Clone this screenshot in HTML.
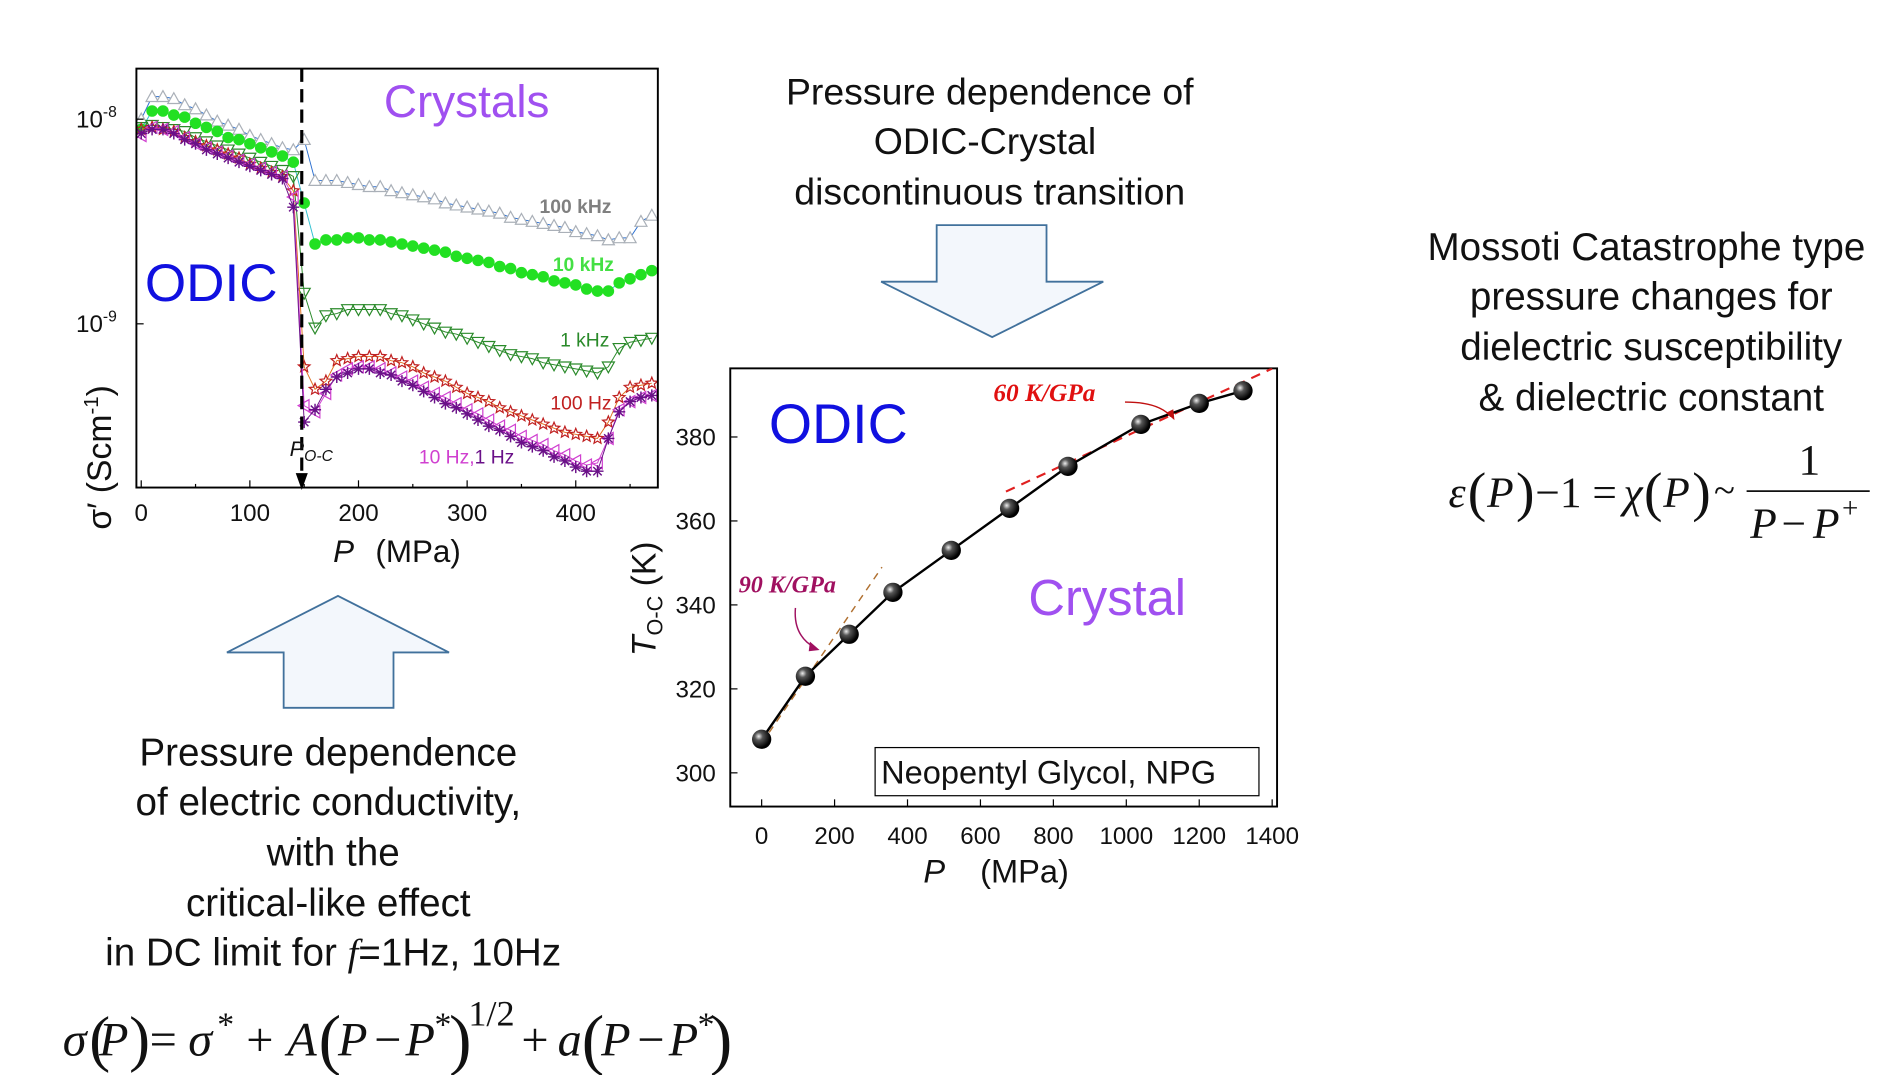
<!DOCTYPE html>
<html><head><meta charset="utf-8"><style>
html,body{margin:0;padding:0;background:#fff;}
svg{display:block;}
text{font-family:"Liberation Sans",sans-serif;}
.ser{font-family:"Liberation Serif",serif;}
</style></head><body>
<svg id="fig" width="1883" height="1075" viewBox="0 0 1560 893" preserveAspectRatio="none" xmlns="http://www.w3.org/2000/svg">
<rect width="1560" height="893" fill="#fff"/>
<g id="left-plot"></g>
<g id="right-plot"></g>

<g font-size="31" fill="#111" text-anchor="middle">
<text x="820" y="87">Pressure dependence of</text>
<text x="816" y="128">ODIC-Crystal</text>
<text x="820" y="170">discontinuous transition</text>
</g>
<g font-size="32" fill="#111" text-anchor="middle">
<text x="1364" y="216">Mossoti Catastrophe type</text>
<text x="1368" y="257">pressure changes for</text>
<text x="1368" y="299">dielectric susceptibility</text>
<text x="1368" y="341">&amp; dielectric constant</text>
</g>
<g font-size="32" fill="#111" text-anchor="middle">
<text x="272" y="636">Pressure dependence</text>
<text x="272" y="677">of electric conductivity,</text>
<text x="276" y="719">with the</text>
<text x="272" y="761">critical-like effect</text>
<text x="276" y="802">in DC limit for <tspan class="ser" font-style="italic">f</tspan>=1Hz, 10Hz</text>
</g>
<polygon points="188,542 280,495 372,542 326,542 326,588 235,588 235,542" fill="#f3f7fc" stroke="#41719c" stroke-width="1.5"/>
<polygon points="730,234 822,280 914,234 867,234 867,187 776,187 776,234" fill="#f3f7fc" stroke="#41719c" stroke-width="1.5"/>

<g class="ser" fill="#111">
<text x="52" y="877" font-size="40" class="ser" font-style="italic">σ</text>
<text x="74" y="880" font-size="52" class="ser">(</text>
<text x="82" y="877" font-size="40" class="ser" font-style="italic">P</text>
<text x="107" y="880" font-size="52" class="ser">)</text>
<text x="124" y="877" font-size="40" class="ser">= </text>
<text x="156" y="877" font-size="40" class="ser" font-style="italic">σ</text>
<text x="180" y="860" font-size="28" class="ser">*</text>
<text x="204" y="877" font-size="40" class="ser">+</text>
<text x="238" y="877" font-size="40" class="ser" font-style="italic">A</text>
<text x="264" y="882" font-size="56" class="ser">(</text>
<text x="280" y="877" font-size="40" class="ser" font-style="italic">P</text>
<text x="310" y="877" font-size="40" class="ser">−</text>
<text x="336" y="877" font-size="40" class="ser" font-style="italic">P</text>
<text x="360" y="860" font-size="28" class="ser">*</text>
<text x="372" y="882" font-size="56" class="ser">)</text>
<text x="388" y="852" font-size="30" class="ser">1/2</text>
<text x="432" y="877" font-size="40" class="ser">+</text>
<text x="462" y="877" font-size="40" class="ser" font-style="italic">a</text>
<text x="482" y="882" font-size="56" class="ser">(</text>
<text x="498" y="877" font-size="40" class="ser" font-style="italic">P</text>
<text x="528" y="877" font-size="40" class="ser">−</text>
<text x="554" y="877" font-size="40" class="ser" font-style="italic">P</text>
<text x="578" y="860" font-size="28" class="ser">*</text>
<text x="588" y="882" font-size="56" class="ser">)</text>
</g>
<g fill="#111">
<text x="1200" y="421" font-size="36" class="ser" font-style="italic">ε</text>
<text x="1216" y="424" font-size="46" class="ser">(</text>
<text x="1232" y="421" font-size="36" class="ser" font-style="italic">P</text>
<text x="1256" y="424" font-size="46" class="ser">)</text>
<text x="1272" y="421" font-size="36" class="ser">−1 = </text>
<text x="1345" y="421" font-size="36" class="ser" font-style="italic">χ</text>
<text x="1362" y="424" font-size="46" class="ser">(</text>
<text x="1378" y="421" font-size="36" class="ser" font-style="italic">P</text>
<text x="1402" y="424" font-size="46" class="ser">)</text>
<text x="1420" y="418" font-size="32" class="ser">~</text>
<text x="1490" y="394" font-size="36" class="ser">1</text>
<line x1="1447" y1="408" x2="1549" y2="408" stroke="#111" stroke-width="1.5"/>
<text x="1450" y="447" font-size="36" class="ser" font-style="italic">P</text>
<text x="1476" y="447" font-size="36" class="ser">−</text>
<text x="1502" y="447" font-size="36" class="ser" font-style="italic">P</text>
<text x="1526" y="430" font-size="24" class="ser">+</text>
</g>
</svg>
<script>
// ---------- left chart data ----------
const pressureL = [0,10,20,30,40,50,60,70,80,90,100,110,120,130,140,150,160,170,180,190,200,210,220,230,240,250,260,270,280,290,300,310,320,330,340,350,360,370,380,390,400,410,420,430,440,450,460,470];
const log100kHz = [-8.00,-7.89,-7.89,-7.90,-7.93,-7.95,-7.98,-8.01,-8.03,-8.05,-8.08,-8.10,-8.12,-8.14,-8.15,-8.10,-8.30,-8.30,-8.30,-8.31,-8.32,-8.33,-8.33,-8.35,-8.36,-8.37,-8.38,-8.39,-8.41,-8.42,-8.43,-8.44,-8.45,-8.46,-8.48,-8.49,-8.50,-8.51,-8.52,-8.53,-8.55,-8.56,-8.57,-8.59,-8.58,-8.58,-8.50,-8.47];
const log10kHz = [-8.05,-7.96,-7.96,-7.98,-7.99,-8.02,-8.04,-8.06,-8.09,-8.10,-8.12,-8.14,-8.16,-8.18,-8.21,-8.41,-8.61,-8.59,-8.59,-8.58,-8.58,-8.59,-8.59,-8.60,-8.61,-8.62,-8.63,-8.64,-8.65,-8.67,-8.68,-8.69,-8.70,-8.72,-8.73,-8.75,-8.76,-8.77,-8.79,-8.80,-8.81,-8.83,-8.84,-8.84,-8.80,-8.78,-8.76,-8.74];
const log1kHz = [-8.04,-8.03,-8.04,-8.05,-8.06,-8.09,-8.11,-8.13,-8.15,-8.17,-8.19,-8.21,-8.23,-8.25,-8.28,-8.85,-9.02,-8.96,-8.95,-8.93,-8.93,-8.93,-8.93,-8.95,-8.96,-8.98,-9.00,-9.02,-9.04,-9.05,-9.07,-9.09,-9.11,-9.13,-9.15,-9.16,-9.17,-9.19,-9.20,-9.21,-9.22,-9.23,-9.24,-9.21,-9.12,-9.09,-9.08,-9.07];
const log100Hz = [-8.05,-8.04,-8.05,-8.06,-8.09,-8.11,-8.13,-8.15,-8.17,-8.19,-8.22,-8.24,-8.26,-8.28,-8.35,-9.21,-9.32,-9.28,-9.18,-9.17,-9.16,-9.16,-9.16,-9.18,-9.19,-9.21,-9.24,-9.26,-9.28,-9.31,-9.34,-9.36,-9.38,-9.41,-9.43,-9.45,-9.47,-9.49,-9.51,-9.53,-9.54,-9.55,-9.56,-9.48,-9.36,-9.31,-9.30,-9.29];
const log10Hz = [-8.08,-8.04,-8.05,-8.06,-8.09,-8.12,-8.14,-8.16,-8.18,-8.20,-8.22,-8.24,-8.26,-8.28,-8.38,-9.40,-9.43,-9.34,-9.25,-9.22,-9.21,-9.21,-9.22,-9.24,-9.26,-9.28,-9.31,-9.34,-9.36,-9.39,-9.42,-9.44,-9.47,-9.50,-9.52,-9.55,-9.57,-9.59,-9.62,-9.64,-9.67,-9.69,-9.68,-9.56,-9.42,-9.38,-9.36,-9.35];
const log1Hz = [-8.07,-8.05,-8.05,-8.07,-8.10,-8.12,-8.15,-8.17,-8.19,-8.21,-8.23,-8.25,-8.27,-8.29,-8.43,-9.48,-9.42,-9.32,-9.26,-9.24,-9.22,-9.22,-9.24,-9.25,-9.28,-9.30,-9.33,-9.36,-9.39,-9.41,-9.44,-9.47,-9.50,-9.52,-9.55,-9.58,-9.60,-9.62,-9.65,-9.67,-9.70,-9.72,-9.72,-9.56,-9.43,-9.38,-9.36,-9.35];
const xTicksL = [0,100,200,300,400];
const yTicksL = [-8,-9];
// ---------- right chart data ----------
const pressureR = [0,120,240,360,520,680,840,1040,1200,1320];
const tempR = [308,323,333,343,353,363,373,383,388,391];
const xTicksR = [0,200,400,600,800,1000,1200,1400];
const yTicksR = [300,320,340,360,380];
const fit60P = [670,1400];
const fit60T = [367,396.3];
const fit90P = [0,330];
const fit90T = [307,349];

const NS='http://www.w3.org/2000/svg';
function mk(parent,tag,attrs,txt){const e=document.createElementNS(NS,tag);for(const k in attrs)e.setAttribute(k,attrs[k]);if(txt!==undefined)e.textContent=txt;parent.appendChild(e);return e;}

// left
const L=document.getElementById('left-plot');
const lx=p=>117+0.9*p;
const ly=v=>99+(-8-v)*170;
const clipL=mk(L,'clipPath',{id:'clipL'});mk(clipL,'rect',{x:113,y:57,width:432,height:348});
const dataL=mk(L,'g',{'clip-path':'url(#clipL)'});
function marker(g,type,x,y,color){
  let m;
  if(type==='up') m=mk(g,'polygon',{points:`${x-5},${y+4} ${x+5},${y+4} ${x},${y-5}`,fill:'#fff',stroke:color,'stroke-width':1});
  else if(type==='down') m=mk(g,'polygon',{points:`${x-5},${y-4} ${x+5},${y-4} ${x},${y+5}`,fill:'none',stroke:color,'stroke-width':1});
  else if(type==='left') m=mk(g,'polygon',{points:`${x+4},${y-5} ${x+4},${y+5} ${x-5},${y}`,fill:'none',stroke:color,'stroke-width':1});
  else if(type==='circle') m=mk(g,'circle',{cx:x,cy:y,r:4.8,fill:color});
  else if(type==='star'){let pts=[];for(let i=0;i<10;i++){const r=i%2?2.2:5,a=-Math.PI/2+i*Math.PI/5;pts.push((x+r*Math.cos(a)).toFixed(1)+','+(y+r*Math.sin(a)).toFixed(1));}
    m=mk(g,'polygon',{points:pts.join(' '),fill:'none',stroke:color,'stroke-width':1});}
  else {m=mk(g,'path',{d:`M${x-5},${y}H${x+5}M${x-3.5},${y-3.5}L${x+3.5},${y+3.5}M${x-3.5},${y+3.5}L${x+3.5},${y-3.5}M${x},${y-5}V${y+5}`,stroke:color,'stroke-width':1.2});}
  return m;
}
const seriesL=[
 ['series-100khz',log100kHz,'up','#aab0b8','#2a6fd0'],
 ['series-10khz',log10kHz,'circle','#22e022','#30c0d0'],
 ['series-1khz',log1kHz,'down','#2a8a2a','#2a8a2a'],
 ['series-100hz',log100Hz,'star','#c02020','#e07020'],
 ['series-10hz',log10Hz,'left','#d040d0','#d040d0'],
 ['series-1hz',log1Hz,'ast','#6a1088','#6a1088']];
seriesL.forEach(s=>{
  const g=mk(dataL,'g',{});
  
  
  mk(g,'polyline',{points:pressureL.map((p,i)=>lx(p)+','+ly(s[1][i])).join(' '),fill:'none',stroke:s[4],'stroke-width':0.8});
  pressureL.forEach((p,i)=>marker(g,s[2],lx(p),ly(s[1][i]),s[3]));
});
mk(L,'rect',{x:113,y:57,width:432,height:348,fill:'none',stroke:'#000','stroke-width':1.6});
mk(L,'line',{x1:250,y1:57,x2:250,y2:395,stroke:'#000','stroke-width':2.6,'stroke-dasharray':'11,6'});
mk(L,'polygon',{points:'245,393 255,393 250,407',fill:'#000'});
xTicksL.forEach(t=>{const x=lx(t);mk(L,'line',{x1:x,y1:405,x2:x,y2:399,stroke:'#000'});
 const lb=mk(L,'text',{x:x,y:433,'font-size':20,'text-anchor':'middle',fill:'#111'},String(t));
 });
[50,150,250,350,450].forEach(t=>mk(L,'line',{x1:lx(t),y1:405,x2:lx(t),y2:402,stroke:'#000'}));
yTicksL.forEach(t=>{const y=ly(t);mk(L,'line',{x1:113,y1:y,x2:119,y2:y,stroke:'#000'});
 const lb=mk(L,'text',{x:63,y:y+7,'font-size':20,fill:'#111'});
 
 mk(lb,'tspan',{},'10');mk(lb,'tspan',{dy:-9,'font-size':13},String(t));});
mk(L,'text',{x:120,y:250,'font-size':44,fill:'#1010e0',},'ODIC');
mk(L,'text',{x:318,y:97,'font-size':38,fill:'#a050f0',},'Crystals');
[['100 kHz',447,177,'#808080'],['10 kHz',458,225,'#44e044'],['1 kHz',464,288,'#2a8a2a'],['100 Hz',456,340,'#c02020']].forEach(a=>{
 const t=mk(L,'text',{x:a[1],y:a[2],'font-size':16,'font-weight':a[0]==='1 kHz'||a[0]==='100 Hz'?'normal':'bold',fill:a[3]},a[0]);
 });
const t10=mk(L,'text',{x:347,y:385,'font-size':16,fill:'#d040d0',},'10 Hz,');
mk(t10,'tspan',{fill:'#6a1088'},'1 Hz');
const po=mk(L,'text',{x:240,y:379,'font-size':18,'font-style':'italic',fill:'#111',},'P');
mk(po,'tspan',{'font-size':13,dy:4},'O-C');
const yl=mk(L,'text',{x:0,y:0,'font-size':28,fill:'#111',transform:'translate(92,440) rotate(-90)',},'σ′ (Scm');
mk(yl,'tspan',{'font-size':17,dy:-11},'-1');mk(yl,'tspan',{dy:11},')');
const xl=mk(L,'text',{x:276,y:467,'font-size':26,fill:'#111',});
mk(xl,'tspan',{'font-style':'italic'},'P');mk(xl,'tspan',{x:311},'(MPa)');

// right
const R=document.getElementById('right-plot');
const rx=p=>631+0.3021*p;
const ry=t=>642-(t-300)*3.4875;
const clipR=mk(R,'clipPath',{id:'clipR'});mk(clipR,'rect',{x:605,y:306,width:453,height:364});
mk(R,'rect',{x:605,y:306,width:453,height:364,fill:'none',stroke:'#000','stroke-width':1.6});
xTicksR.forEach(t=>{const x=rx(t);mk(R,'line',{x1:x,y1:670,x2:x,y2:664,stroke:'#000'});
 const lb=mk(R,'text',{x:x,y:701,'font-size':20,'text-anchor':'middle',fill:'#111'},String(t));
 });
yTicksR.forEach(t=>{const y=ry(t);mk(R,'line',{x1:605,y1:y,x2:611,y2:y,stroke:'#000'});
 const lb=mk(R,'text',{x:593,y:y+7,'font-size':20,'text-anchor':'end',fill:'#111'},String(t));
 });
const gr=mk(R,'g',{'clip-path':'url(#clipR)'});
mk(gr,'line',{x1:rx(fit90P[0]),y1:ry(fit90T[0]),x2:rx(fit90P[1]),y2:ry(fit90T[1]),stroke:'#b07030','stroke-width':1.2,'stroke-dasharray':'6,5',});
mk(gr,'line',{x1:rx(fit60P[0]),y1:ry(fit60T[0]),x2:rx(fit60P[1]),y2:ry(fit60T[1]),stroke:'#e02020','stroke-width':1.8,'stroke-dasharray':'8,6',});
mk(gr,'polyline',{points:pressureR.map((p,i)=>rx(p)+','+ry(tempR[i])).join(' '),fill:'none',stroke:'#000','stroke-width':2,});
const defs=mk(R,'defs',{});const rg=mk(defs,'radialGradient',{id:'ball',cx:'0.35',cy:'0.35',r:'0.6'});
mk(rg,'stop',{offset:'0','stop-color':'#eee'});mk(rg,'stop',{offset:'0.35','stop-color':'#555'});mk(rg,'stop',{offset:'1','stop-color':'#000'});
pressureR.forEach((p,i)=>{const c=mk(R,'circle',{cx:rx(p),cy:ry(tempR[i]),r:8,fill:'url(#ball)'});
 });
mk(R,'text',{x:637,y:368,'font-size':46,fill:'#1010e0',},'ODIC');
mk(R,'text',{x:852,y:511,'font-size':42,fill:'#a050f0',},'Crystal');
mk(R,'text',{x:823,y:333,'font-size':21,'font-weight':'bold','font-style':'italic',fill:'#e01010',class:'ser',},'60 K/GPa');
mk(R,'path',{d:'M932,334 Q960,334 970,346',fill:'none',stroke:'#c01010','stroke-width':1.2});
mk(R,'polygon',{points:'966,343 973,349 972,340',fill:'#c01010'});
mk(R,'text',{x:612,y:492,'font-size':20,'font-weight':'bold','font-style':'italic',fill:'#a01060',class:'ser',},'90 K/GPa');
mk(R,'path',{d:'M659,505 Q657,528 675,538',fill:'none',stroke:'#a01060','stroke-width':1.2});
mk(R,'polygon',{points:'671,533 679,540 670,541',fill:'#a01060'});
mk(R,'rect',{x:725,y:621,width:318,height:40,fill:'#fff',stroke:'#000','stroke-width':1,});
mk(R,'text',{x:730,y:651,'font-size':27,fill:'#111',},'Neopentyl Glycol, NPG');
const ryl=mk(R,'text',{x:0,y:0,'font-size':28,fill:'#111',transform:'translate(543,545) rotate(-90)',});
mk(ryl,'tspan',{'font-style':'italic'},'T');mk(ryl,'tspan',{'font-size':18,dy:6},'O-C');mk(ryl,'tspan',{dy:-6},' (K)');
const rxl=mk(R,'text',{x:765,y:733,'font-size':27,fill:'#111',});
mk(rxl,'tspan',{'font-style':'italic'},'P');mk(rxl,'tspan',{x:812},'(MPa)');
</script>
</body></html>
